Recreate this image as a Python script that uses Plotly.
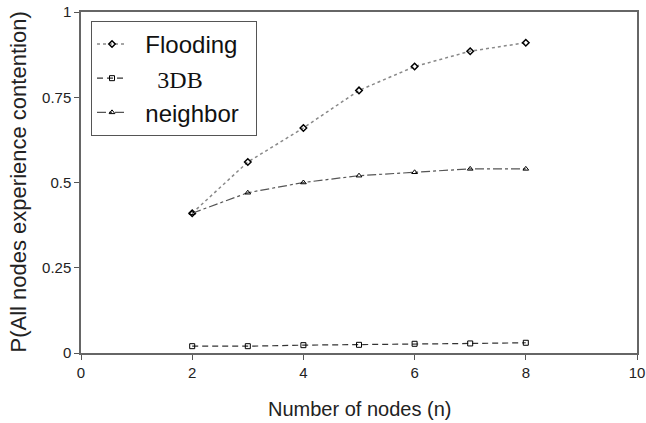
import plotly.graph_objects as go

nodes = [2, 3, 4, 5, 6, 7, 8]
flooding = [0.41, 0.56, 0.66, 0.77, 0.84, 0.885, 0.91]
db3 = [0.02, 0.02, 0.023, 0.024, 0.027, 0.028, 0.03]
neighbor = [0.41, 0.47, 0.50, 0.52, 0.53, 0.54, 0.54]

x_ticks = [0, 2, 4, 6, 8, 10]
y_ticks = [0, 0.25, 0.5, 0.75, 1]
y_tick_labels = ["0", "0.25", "0.5", "0.75", "1"]

NB = "\u00a0"

fig = go.Figure()
fig.add_trace(go.Scatter(
    x=nodes, y=flooding, name=NB * 2 + "Flooding" + NB * 2, mode="lines+markers",
    line=dict(color="#888888", width=1.5, dash="dot"),
    marker=dict(symbol="diamond-open", size=5, color="black", line=dict(width=1.5)),
))
fig.add_trace(go.Scatter(
    x=nodes, y=db3,
    name=NB * 2 + '<span style="font-family:\'Liberation Serif\'">' + NB * 2 + "3DB</span>",
    mode="lines+markers",
    line=dict(color="#333333", width=1.2, dash="6px,4px"),
    marker=dict(symbol="square-open", size=5, color="black", line=dict(width=1)),
))
fig.add_trace(go.Scatter(
    x=nodes, y=neighbor, name=NB * 2 + "neighbor", mode="lines+markers",
    line=dict(color="#555555", width=1.2, dash="dashdot"),
    marker=dict(symbol="triangle-up-open", size=5, color="black", line=dict(width=1)),
))

axis_common = dict(
    showline=True, linecolor="#666666", linewidth=1.5, mirror=True,
    ticks="outside", ticklen=5, tickcolor="#555555", tickwidth=1,
    showgrid=False, zeroline=False, automargin=False,
    tickfont=dict(family="Liberation Sans, Arial", size=15, color="#222222"),
)

fig.update_layout(
    width=646, height=423,
    margin=dict(l=81, r=9, t=12, b=70),
    paper_bgcolor="white", plot_bgcolor="white",
    font=dict(family="Liberation Sans, Arial", color="#222222"),
    xaxis=dict(range=[0, 10], tickvals=x_ticks, **axis_common),
    yaxis=dict(range=[0, 1], tickvals=y_ticks, ticktext=y_tick_labels, **axis_common),
    legend=dict(x=0.018, y=0.974, xanchor="left", yanchor="top",
                bordercolor="#555555", borderwidth=1, bgcolor="white",
                font=dict(family="Liberation Sans, Arial", size=24, color="#111111"),
                itemwidth=30, tracegroupgap=0),
    showlegend=True,
    annotations=[
        dict(text="Number of nodes (n)", xref="paper", yref="paper", x=0.5, y=0,
             xanchor="center", yanchor="middle", yshift=-56, showarrow=False,
             font=dict(size=20, color="#222222")),
        dict(text="P(All nodes experience contention)", xref="paper", yref="paper",
             x=0, y=0.5, xanchor="center", yanchor="middle", xshift=-63,
             textangle=-90, showarrow=False, font=dict(size=22, color="#222222")),
    ],
)

fig.write_html("out.html", config={"displayModeBar": False},
               post_script="document.body.style.margin='0px';")
